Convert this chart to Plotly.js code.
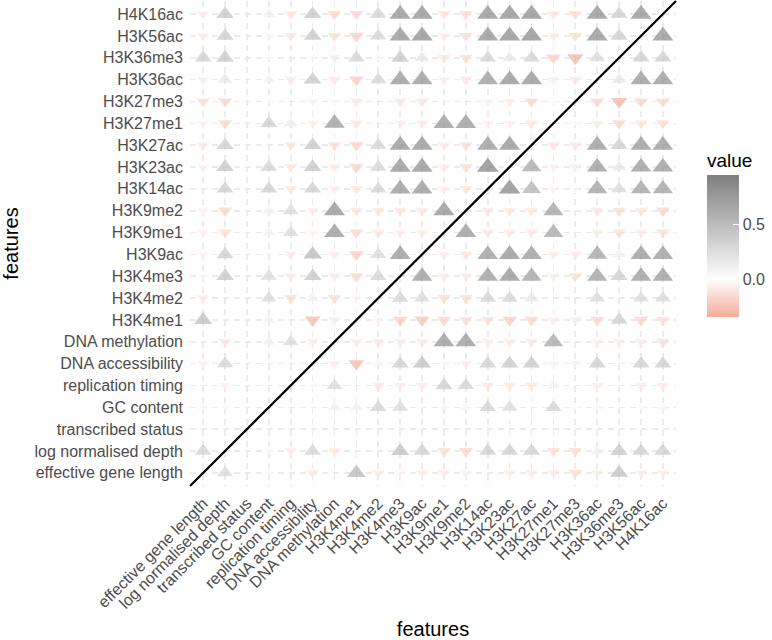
<!DOCTYPE html>
<html>
<head>
<meta charset="utf-8">
<script src="https://cdn.plot.ly/plotly-3.0.1.min.js"></script>
<style>html,body{margin:0;padding:0;background:#fff;}#chart{width:772px;height:640px;}</style>
</head>
<body>
<div id="chart"></div>
<script>
// Features (x order left->right, y order bottom->top)
const features = ["effective gene length", "log normalised depth", "transcribed status", "GC content",
  "replication timing", "DNA accessibility", "DNA methylation", "H3K4me1", "H3K4me2", "H3K4me3",
  "H3K9ac", "H3K9me1", "H3K9me2", "H3K14ac", "H3K23ac", "H3K27ac", "H3K27me1", "H3K27me3",
  "H3K36ac", "H3K36me3", "H3K56ac", "H4K16ac"];

// One row per y feature; values across x features (null = no mark)
const r_effectiveGeneLength = [null, 0.3, null, 0.03, null, -0.1, null, 0.55, -0.09, -0.05, -0.08, -0.08, -0.06, null, -0.08, -0.09, -0.09, -0.15, -0.08, 0.5, -0.08, -0.08];
const r_logNormalisedDepth = [0.35, null, null, 0.03, -0.08, 0.35, -0.12, null, null, 0.5, 0.4, -0.15, -0.18, 0.4, 0.4, 0.4, -0.15, -0.15, 0.12, 0.45, 0.4, 0.4];
const r_transcribedStatus = [null, null, null, null, null, null, null, null, null, null, null, null, null, null, null, null, null, null, null, null, null, null];
const r_gcContent = [0.06, 0.04, null, null, null, null, 0.12, 0.1, 0.35, 0.3, null, 0.06, 0.06, 0.35, 0.3, null, 0.35, 0.03, 0.06, null, 0.03, 0.06];
const r_replicationTiming = [null, -0.06, null, null, null, -0.02, 0.3, null, -0.12, -0.09, -0.1, 0.4, 0.35, -0.12, -0.12, -0.12, 0.12, null, -0.08, null, -0.09, -0.1];
const r_dnaAccessibility = [-0.06, 0.35, null, null, null, null, -0.08, -0.3, 0.06, 0.4, 0.5, -0.03, -0.08, 0.4, 0.45, 0.45, -0.06, -0.06, 0.4, null, 0.4, 0.4];
const r_dnaMethylation = [null, -0.12, null, 0.12, 0.3, -0.09, null, -0.09, -0.12, -0.09, -0.1, 0.83, 0.83, -0.08, -0.09, -0.12, 0.7, null, -0.08, -0.08, -0.09, -0.15];
const r_H3K4me1 = [0.5, null, null, 0.1, null, -0.3, -0.09, null, -0.06, -0.22, -0.25, -0.18, -0.15, -0.15, -0.22, -0.18, -0.09, -0.08, -0.18, 0.4, -0.2, -0.15];
const r_H3K4me2 = [-0.09, null, null, 0.3, -0.15, 0.12, -0.15, -0.06, null, 0.35, 0.3, -0.15, -0.15, 0.35, 0.35, 0.2, null, null, 0.3, null, 0.3, 0.3];
const r_H3K4me3 = [-0.03, 0.45, null, 0.3, -0.09, 0.45, -0.09, -0.18, 0.35, null, 0.8, -0.08, -0.1, 0.8, 0.87, 0.75, -0.08, -0.15, 0.75, 0.4, 0.8, 0.8];
const r_H3K9ac = [-0.06, 0.4, null, null, -0.1, 0.55, -0.09, -0.22, 0.3, 0.83, null, -0.08, -0.12, 0.8, 0.87, 0.8, -0.09, -0.1, 0.75, 0.12, 0.83, 0.8];
const r_H3K9me1 = [-0.06, -0.15, null, 0.1, 0.3, -0.05, 0.83, -0.18, -0.12, -0.09, -0.09, null, 0.83, -0.12, -0.12, -0.12, 0.7, null, -0.09, -0.15, -0.1, -0.15];
const r_H3K9me2 = [-0.05, -0.18, null, 0.12, 0.3, -0.09, 0.87, -0.12, -0.12, -0.12, -0.12, 0.87, null, -0.12, -0.12, -0.12, 0.75, null, -0.12, -0.15, -0.12, -0.18];
const r_H3K14ac = [null, 0.4, null, 0.4, -0.1, 0.4, -0.08, -0.12, 0.35, 0.83, 0.83, -0.08, -0.12, null, 0.94, 0.6, -0.05, -0.03, 0.75, 0.3, 0.75, 0.75];
const r_H3K23ac = [-0.06, 0.45, null, 0.35, -0.12, 0.45, -0.1, -0.2, 0.35, 0.87, 0.87, -0.09, -0.15, 0.94, null, 0.7, -0.06, -0.08, 0.8, 0.2, 0.8, 0.8];
const r_H3K27ac = [-0.1, 0.4, null, null, -0.12, 0.45, -0.15, -0.2, 0.35, 0.87, 0.87, -0.09, -0.15, 0.83, 0.87, null, -0.12, -0.12, 0.83, 0.4, 0.83, 0.83];
const r_H3K27me1 = [-0.06, -0.18, null, 0.4, 0.15, -0.08, 0.8, -0.12, null, -0.08, -0.09, 0.83, 0.83, -0.06, -0.06, -0.12, null, 0.02, -0.08, -0.18, -0.12, -0.15];
const r_H3K27me3 = [-0.15, -0.18, null, 0.02, null, -0.06, -0.02, -0.12, null, -0.12, -0.12, null, null, -0.06, -0.09, -0.18, 0.02, null, -0.18, -0.33, -0.18, -0.18];
const r_H3K36ac = [-0.08, 0.2, null, 0.1, -0.1, 0.45, -0.12, -0.22, 0.35, 0.83, 0.83, -0.08, -0.12, 0.8, 0.87, 0.87, -0.08, -0.12, null, 0.2, 0.83, 0.83];
const r_H3K36me3 = [0.4, 0.45, null, 0.03, null, 0.04, -0.08, 0.35, 0.03, 0.45, 0.2, -0.12, -0.15, 0.35, 0.2, 0.35, -0.22, -0.33, 0.3, null, 0.4, 0.4];
const r_H3K56ac = [-0.08, 0.4, null, 0.04, -0.12, 0.45, -0.15, -0.22, 0.35, 0.87, 0.9, -0.09, -0.15, 0.87, 0.9, 0.9, -0.09, -0.15, 0.87, 0.4, null, 0.87];
const r_H4K16ac = [-0.08, 0.45, null, 0.12, -0.12, 0.45, -0.18, -0.18, 0.35, 0.87, 0.87, -0.12, -0.15, 0.87, 0.9, 0.9, -0.12, -0.15, 0.87, 0.4, 0.87, null];

const rows = [r_effectiveGeneLength, r_logNormalisedDepth, r_transcribedStatus, r_gcContent,
  r_replicationTiming, r_dnaAccessibility, r_dnaMethylation, r_H3K4me1, r_H3K4me2, r_H3K4me3,
  r_H3K9ac, r_H3K9me1, r_H3K9me2, r_H3K14ac, r_H3K23ac, r_H3K27ac, r_H3K27me1, r_H3K27me3,
  r_H3K36ac, r_H3K36me3, r_H3K56ac, r_H4K16ac];

const colourTicks = [0, 0.5];
const colourTickText = ["0.0", "0.5"];
const colourMin = -0.34, colourMax = 0.94;

const xs = [], ys = [], vs = [], syms = [], sizes = [];
rows.forEach((row, i) => {
  row.forEach((v, j) => {
    if (v === null) return;
    xs.push(j); ys.push(i); vs.push(v);
    syms.push(v >= 0 ? "triangle-up" : "triangle-down");
    sizes.push((8.3 + 12.8 * Math.sqrt(Math.abs(v))) / 1.1);
  });
});

const zeroPos = -colourMin / (colourMax - colourMin);
const fontFam = "Liberation Sans, Arial, sans-serif";
const trace = {
  type: "scatter", mode: "markers", x: xs, y: ys,
  hoverinfo: "skip",
  marker: {
    symbol: syms, size: sizes, color: vs,
    cmin: colourMin, cmax: colourMax,
    colorscale: [[0, "#F3AC99"], [zeroPos, "#FFFFFF"], [1, "#7F7F7F"]],
    line: {width: 0},
    showscale: true,
    colorbar: {
      title: {text: "value", side: "top", font: {family: fontFam, size: 19, color: "#000"}},
      x: 1.0616, xanchor: "left", xpad: 0,
      y: 0.694, yanchor: "top", ypad: 0,
      len: 168, lenmode: "pixels",
      thickness: 32, thicknessmode: "pixels",
      outlinewidth: 0,
      tickvals: colourTicks, ticktext: colourTickText,
      ticks: "inside", ticklen: 6, tickcolor: "#ffffff", tickwidth: 1.2,
      tickfont: {family: fontFam, size: 16, color: "#4D4D4D"}
    }
  },
  showlegend: false
};

const layout = {
  width: 772, height: 640,
  margin: {l: 190, r: 95, t: 1, b: 154},
  paper_bgcolor: "#fff", plot_bgcolor: "#fff",
  font: {family: fontFam},
  xaxis: {
    range: [-0.6, 21.6], tickvals: features.map((f, i) => i), ticktext: features,
    tickangle: -45, ticks: "", ticklabelstandoff: 4,
    tickfont: {family: fontFam, size: 16, color: "#4D4D4D"},
    showgrid: true, gridcolor: "#EBEBEB", gridwidth: 1.6, griddash: "6px,5px",
    zeroline: false, showline: false, fixedrange: true,
    title: {text: "features", font: {family: fontFam, size: 20, color: "#000"}, standoff: 13}
  },
  yaxis: {
    range: [-0.6, 21.6], tickvals: features.map((f, i) => i), ticktext: features,
    ticks: "", ticklabelstandoff: 6,
    tickfont: {family: fontFam, size: 16, color: "#4D4D4D"},
    showgrid: true, gridcolor: "#EBEBEB", gridwidth: 1.6, griddash: "6px,5px",
    zeroline: false, showline: false, fixedrange: true,
    title: {text: "features", font: {family: fontFam, size: 20, color: "#000"}, standoff: 10}
  },
  shapes: [{type: "line", xref: "paper", yref: "paper", x0: 0, y0: 0, x1: 1, y1: 1,
            line: {color: "#000", width: 2.2}, layer: "above"}]
};

Plotly.newPlot("chart", [trace], layout, {displayModeBar: false, staticPlot: true});
</script>
</body>
</html>
